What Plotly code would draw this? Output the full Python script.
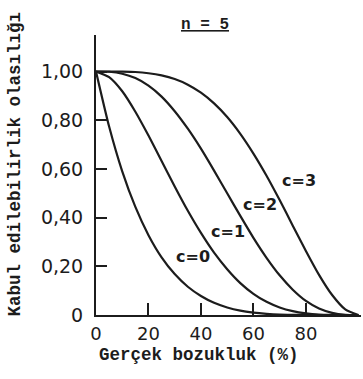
import plotly.graph_objects as go

# percent defective
p_pct = [0, 5, 10, 15, 20, 25, 30, 35, 40, 45, 50, 55, 60, 65, 70, 75, 80, 85, 90, 95, 100]
# probability of acceptance (n = 5)
pa_c0 = [1.00, 0.774, 0.590, 0.444, 0.328, 0.237, 0.168, 0.116, 0.078, 0.050, 0.031, 0.018, 0.010, 0.005, 0.002, 0.001, 0.0003, 0.0001, 0.0, 0.0, 0.0]
pa_c1 = [1.00, 0.977, 0.919, 0.835, 0.737, 0.633, 0.528, 0.428, 0.337, 0.256, 0.188, 0.131, 0.087, 0.054, 0.031, 0.016, 0.007, 0.002, 0.0005, 0.0, 0.0]
pa_c2 = [1.00, 0.999, 0.991, 0.973, 0.942, 0.897, 0.837, 0.765, 0.683, 0.593, 0.500, 0.407, 0.317, 0.235, 0.163, 0.104, 0.058, 0.027, 0.009, 0.001, 0.0]
pa_c3 = [1.00, 1.000, 0.9995, 0.998, 0.993, 0.984, 0.969, 0.946, 0.913, 0.869, 0.813, 0.744, 0.663, 0.572, 0.472, 0.367, 0.263, 0.165, 0.082, 0.023, 0.0]

curve_labels = ["c=0", "c=1", "c=2", "c=3"]
label_x = [36.8, 50.2, 62.5, 77.4]
label_y = [0.239, 0.342, 0.453, 0.551]

x_ticks = [0, 20, 40, 60, 80]
x_ticktext = ["0", "20", "40", "60", "80"]
y_ticks = [0, 0.2, 0.4, 0.6, 0.8, 1.0]
y_ticktext = ["0", "0,20", "0,40", "0,60", "0,80", "1,00"]

title_text = "n = 5"
x_title = "Gerçek bozukluk (%)"
y_title = "Kabul edilebilirlik olasılığı"

INK = "#1c1c1c"
MONO = "Liberation Mono"
SANS = "DejaVu Sans"

fig = go.Figure()
for ys in [pa_c0, pa_c1, pa_c2, pa_c3]:
    fig.add_trace(go.Scatter(x=p_pct, y=ys, mode="lines",
                             line=dict(color=INK, width=2.2, shape="spline", smoothing=0.6),
                             showlegend=False, hoverinfo="skip"))

for t, lx, ly in zip(curve_labels, label_x, label_y):
    fig.add_annotation(x=lx, y=ly, xref="x", yref="y", text="<b>" + t + "</b>",
                       xanchor="center", yanchor="middle",
                       showarrow=False, font=dict(family=SANS, size=16, color=INK))

fig.add_annotation(x=0.41, y=1.035, xref="paper", yref="paper", text="<b><u>" + title_text + "</u></b>",
                   xanchor="center", yanchor="middle",
                   showarrow=False, font=dict(family=MONO, size=16, color=INK))
fig.add_annotation(x=0.389, y=-0.143, xref="paper", yref="paper", text="<b>" + x_title + "</b>",
                   xanchor="center", yanchor="middle",
                   showarrow=False, font=dict(family=MONO, size=17.5, color=INK))
fig.add_annotation(x=-0.3057, y=0.541, xref="paper", yref="paper", text="<b>" + y_title + "</b>",
                   xanchor="center", yanchor="middle",
                   textangle=-90, showarrow=False, font=dict(family=MONO, size=17.5, color=INK))

fig.update_xaxes(range=[0, 101], tickvals=x_ticks, ticktext=x_ticktext,
                 ticks="inside", ticklen=12, tickwidth=2, tickcolor=INK,
                 showline=True, linewidth=2, linecolor=INK, showgrid=False, zeroline=False,
                 tickfont=dict(family=SANS, size=18, color=INK), ticklabelstandoff=1)
fig.update_yaxes(range=[0, 1.15], tickvals=y_ticks, ticktext=y_ticktext,
                 ticks="inside", ticklen=11, tickwidth=2, tickcolor=INK,
                 showline=True, linewidth=2, linecolor=INK, showgrid=False, zeroline=False,
                 tickfont=dict(family=SANS, size=19, color=INK), ticklabelstandoff=7)

fig.update_layout(width=363, height=379, margin=dict(l=96, r=2, t=35, b=64),
                  plot_bgcolor="white", paper_bgcolor="white")

fig.write_html("out.html")
